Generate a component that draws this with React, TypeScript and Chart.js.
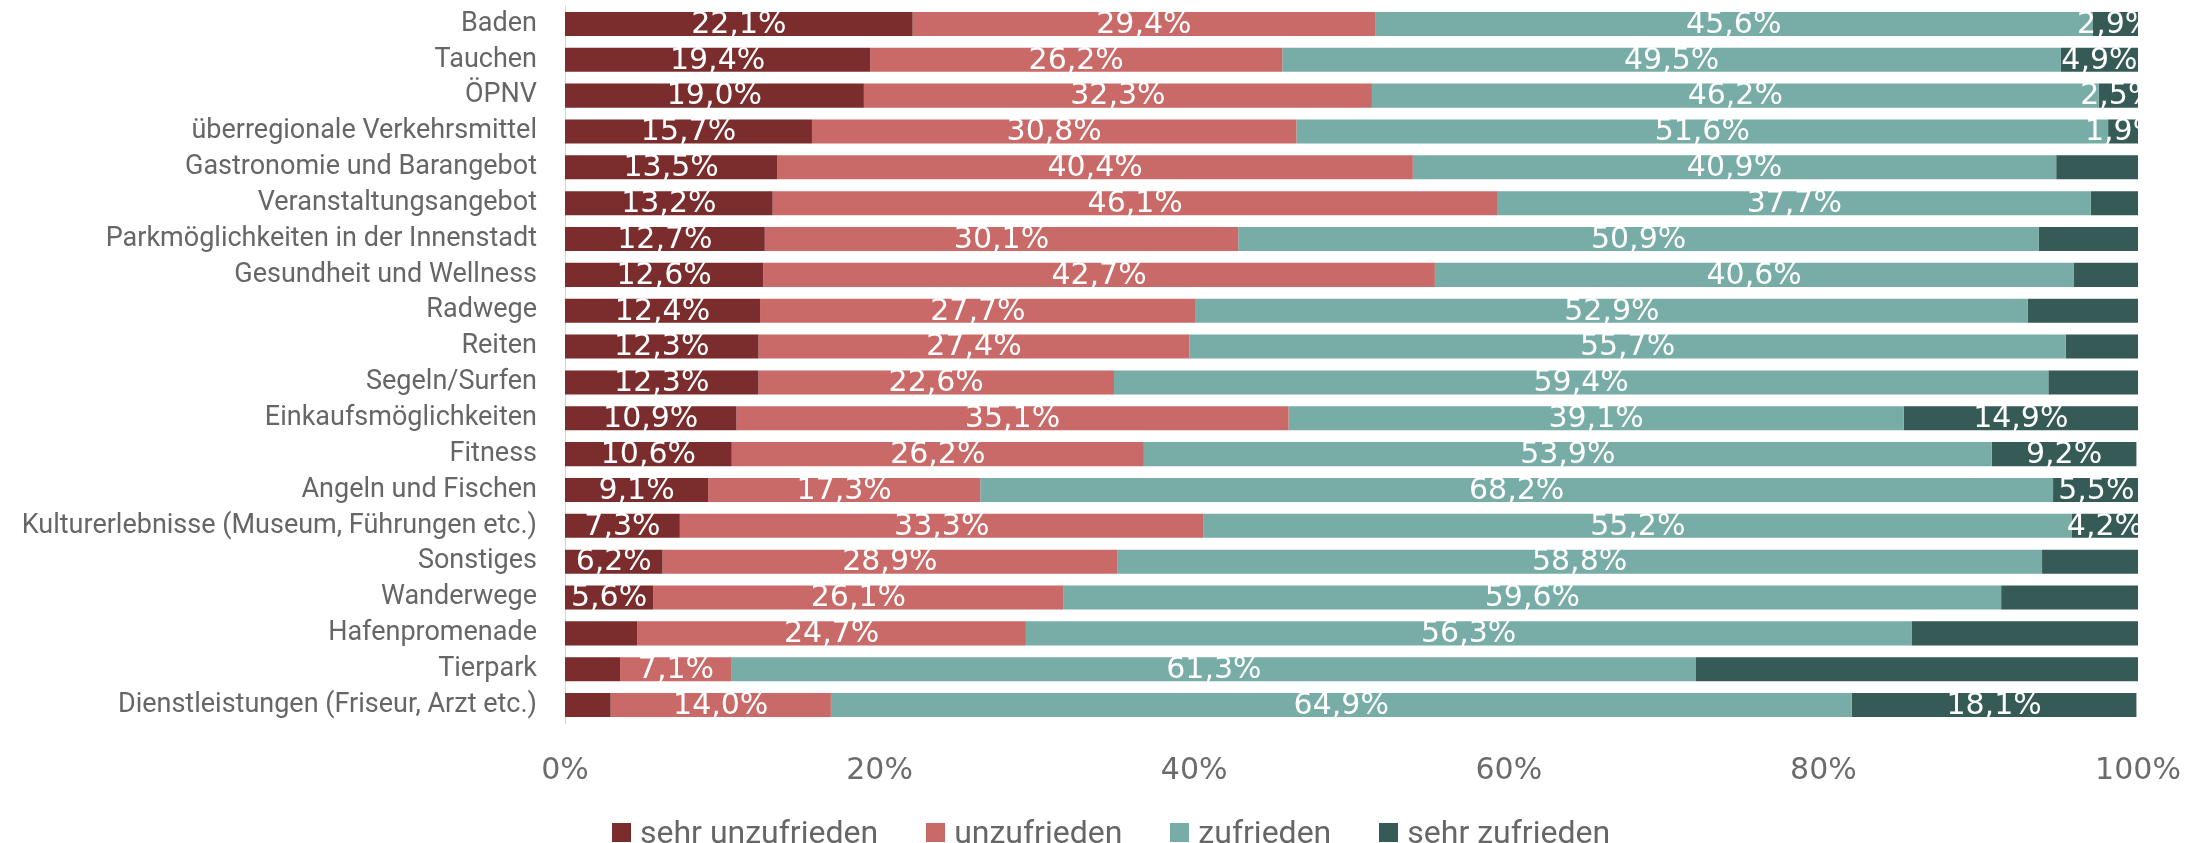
import React, { useEffect, useRef } from 'react';
import { Chart, registerables } from 'chart.js';

Chart.register(...registerables);

const categories = [
  'Baden',
  'Tauchen',
  'ÖPNV',
  'überregionale Verkehrsmittel',
  'Gastronomie und Barangebot',
  'Veranstaltungsangebot',
  'Parkmöglichkeiten in der Innenstadt',
  'Gesundheit und Wellness',
  'Radwege',
  'Reiten',
  'Segeln/Surfen',
  'Einkaufsmöglichkeiten',
  'Fitness',
  'Angeln und Fischen',
  'Kulturerlebnisse (Museum, Führungen etc.)',
  'Sonstiges',
  'Wanderwege',
  'Hafenpromenade',
  'Tierpark',
  'Dienstleistungen (Friseur, Arzt etc.)',
];

const seriesNames = ['sehr unzufrieden', 'unzufrieden', 'zufrieden', 'sehr zufrieden'];

const sehrUnzufrieden = [22.1, 19.4, 19.0, 15.7, 13.5, 13.2, 12.7, 12.6, 12.4, 12.3, 12.3, 10.9, 10.6, 9.1, 7.3, 6.2, 5.6, 4.6, 3.5, 2.9];
const unzufrieden = [29.4, 26.2, 32.3, 30.8, 40.4, 46.1, 30.1, 42.7, 27.7, 27.4, 22.6, 35.1, 26.2, 17.3, 33.3, 28.9, 26.1, 24.7, 7.1, 14.0];
const zufrieden = [45.6, 49.5, 46.2, 51.6, 40.9, 37.7, 50.9, 40.6, 52.9, 55.7, 59.4, 39.1, 53.9, 68.2, 55.2, 58.8, 59.6, 56.3, 61.3, 64.9];
const sehrZufrieden = [2.9, 4.9, 2.5, 1.9, 5.2, 3.0, 6.3, 4.1, 7.0, 4.6, 5.7, 14.9, 9.2, 5.5, 4.2, 6.1, 8.7, 14.4, 28.1, 18.1];

// which segment values carry a visible data label (1 = shown)
const labelsSehrUnzufrieden = [1, 1, 1, 1, 1, 1, 1, 1, 1, 1, 1, 1, 1, 1, 1, 1, 1, 0, 0, 0];
const labelsUnzufrieden = [1, 1, 1, 1, 1, 1, 1, 1, 1, 1, 1, 1, 1, 1, 1, 1, 1, 1, 1, 1];
const labelsZufrieden = [1, 1, 1, 1, 1, 1, 1, 1, 1, 1, 1, 1, 1, 1, 1, 1, 1, 1, 1, 1];
const labelsSehrZufrieden = [1, 1, 1, 1, 0, 0, 0, 0, 0, 0, 0, 1, 1, 1, 1, 0, 0, 0, 0, 1];

const xTicks = [0, 20, 40, 60, 80, 100];

const colors = ['#7B2C2D', '#C96A68', '#77ADA6', '#365B57'];

const seriesValues = [sehrUnzufrieden, unzufrieden, zufrieden, sehrZufrieden];
const seriesLabelFlags = [labelsSehrUnzufrieden, labelsUnzufrieden, labelsZufrieden, labelsSehrZufrieden];

const segmentLabels = {
  id: 'segmentLabels',
  afterDatasetsDraw(chart: any) {
    const ctx = chart.ctx;
    const a = chart.chartArea;
    ctx.save();
    ctx.beginPath();
    ctx.rect(a.left, a.top, a.right - a.left, a.bottom - a.top);
    ctx.clip();
    ctx.font = '30px "DejaVu Sans"';
    ctx.fillStyle = '#ffffff';
    ctx.textAlign = 'center';
    ctx.textBaseline = 'middle';
    chart.data.datasets.forEach((ds: any, i: number) => {
      const meta = chart.getDatasetMeta(i);
      meta.data.forEach((el: any, j: number) => {
        if (!seriesLabelFlags[i][j]) return;
        const v = ds.data[j] as number;
        const text = v.toFixed(1).replace('.', ',') + '%';
        ctx.fillText(text, (el.x + el.base) / 2, el.y + 1);
      });
    });
    ctx.restore();
  },
};

export default function App() {
  const ref = useRef<HTMLCanvasElement>(null);

  useEffect(() => {
    document.body.style.margin = '0';
    const canvas = ref.current;
    if (!canvas) return;
    const chart = new Chart(canvas, {
      type: 'bar',
      data: {
        labels: categories,
        datasets: seriesNames.map((name, i) => ({
          label: name,
          data: seriesValues[i],
          backgroundColor: colors[i],
          borderWidth: 0,
          barPercentage: 1,
          categoryPercentage: 0.67,
        })),
      },
      options: {
        indexAxis: 'y',
        responsive: false,
        animation: false,
        devicePixelRatio: 1,
        layout: { padding: { top: 6, right: 68, left: 0, bottom: 0 } },
        plugins: {
          legend: { display: false },
          tooltip: { enabled: false },
        },
        scales: {
          x: {
            stacked: true,
            min: 0,
            max: 100,
            afterFit: (s: any) => {
              s.height = 120;
              s.paddingLeft = 0;
              s.paddingRight = 0;
            },
            afterBuildTicks: (s: any) => {
              s.ticks = xTicks.map((v) => ({ value: v }));
            },
            grid: { display: false, drawTicks: false },
            border: { display: false },
            ticks: {
              padding: 30,
              color: '#6b6b6b',
              font: { family: '"DejaVu Sans"', size: 30 },
              callback: (v: any) => v + '%',
            },
          },
          y: {
            stacked: true,
            afterFit: (s: any) => {
              s.width = 565;
              s.paddingTop = 0;
              s.paddingBottom = 0;
            },
            grid: { display: false, drawTicks: false },
            border: { display: true, color: '#d4d4d4', width: 1 },
            ticks: {
              padding: 28,
              color: '#666666',
              font: { family: 'Roboto', size: 27 },
              autoSkip: false,
            },
          },
        },
      },
      plugins: [segmentLabels],
    });
    return () => chart.destroy();
  }, []);

  return (
    <div style={{ position: 'relative', width: 2206, height: 843, overflow: 'hidden', background: '#fff' }}>
      <canvas ref={ref} width={2206} height={843} style={{ display: 'block', width: 2206, height: 843 }} />
      <div
        style={{
          position: 'absolute',
          left: 612,
          top: 823,
          display: 'flex',
          alignItems: 'center',
          height: 19,
          whiteSpace: 'nowrap',
        }}
      >
        {seriesNames.map((name, i) => (
          <div key={name} style={{ display: 'flex', alignItems: 'center', height: 19, marginRight: i < seriesNames.length - 1 ? 48 : 0 }}>
            <span style={{ display: 'inline-block', width: 19, height: 19, background: colors[i], marginRight: 9 }} />
            <span style={{ fontFamily: 'Roboto', fontSize: 32, lineHeight: '19px', color: '#666666' }}>{name}</span>
          </div>
        ))}
      </div>
    </div>
  );
}
